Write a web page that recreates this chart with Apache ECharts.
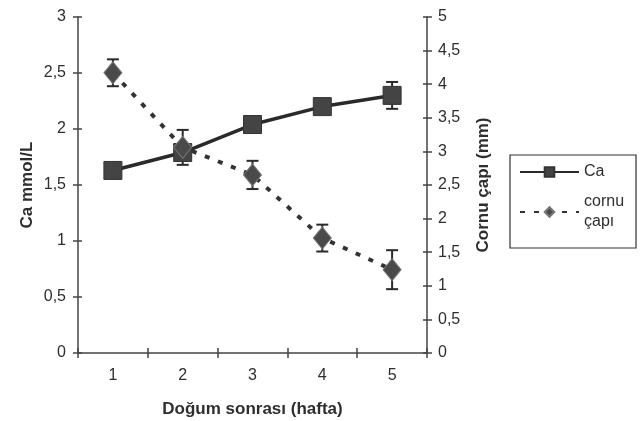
<!DOCTYPE html>
<html><head><meta charset="utf-8">
<script src="https://cdn.jsdelivr.net/npm/echarts@6/dist/echarts.min.js"></script>
<style>html,body{margin:0;padding:0;background:#fff}#c{width:641px;height:421px}</style>
</head><body><div id="c"></div>
<script>
var categories = ['1', '2', '3', '4', '5'];
var caValues = [1.63, 1.79, 2.04, 2.20, 2.30];
var caErrors = [0.05, 0.06, 0.06, 0.05, 0.12];
var cornuValues = [4.17, 3.06, 2.65, 1.71, 1.24];
var cornuErrors = [0.20, 0.26, 0.21, 0.20, 0.29];
var leftTicks = [0, 0.5, 1, 1.5, 2, 2.5, 3];
var rightTicks = [0, 0.5, 1, 1.5, 2, 2.5, 3, 3.5, 4, 4.5, 5];

var fmt = function (v) { return String(v).replace('.', ','); };
var txt = '#2e2e2e';
var FONT = 'Liberation Sans';

function errSeries(name, vals, errs, yIdx) {
  return {
    type: 'custom', name: name + '_err', yAxisIndex: yIdx, z: 4, silent: true,
    data: vals.map(function (v, i) { return [i, v - errs[i], v + errs[i]]; }),
    renderItem: function (params, api) {
      var lo = api.coord([api.value(0), api.value(1)]);
      var hi = api.coord([api.value(0), api.value(2)]);
      var hw = 6;
      var st = { stroke: '#2a2a2a', lineWidth: 2 };
      return { type: 'group', children: [
        { type: 'line', shape: { x1: lo[0], y1: lo[1], x2: hi[0], y2: hi[1] }, style: st },
        { type: 'line', shape: { x1: lo[0] - hw, y1: lo[1], x2: lo[0] + hw, y2: lo[1] }, style: st },
        { type: 'line', shape: { x1: hi[0] - hw, y1: hi[1], x2: hi[0] + hw, y2: hi[1] }, style: st }
      ]};
    }
  };
}

var chart = echarts.init(document.getElementById('c'), null, { renderer: 'canvas' });
var axisLine = { show: true, lineStyle: { color: '#444', width: 1.5 } };
var tickStyle = { color: '#444', width: 1.5 };
chart.setOption({
  backgroundColor: '#fff',
  animation: false,
  textStyle: { fontFamily: FONT },
  grid: { left: 78, right: 214, top: 17, bottom: 68, containLabel: false, outerBoundsMode: 'none' },
  legend: {
    orient: 'vertical', left: 510, top: 155,
    borderColor: '#333', borderWidth: 1.2,
    padding: [7, 12, 6, 9],
    itemGap: 0, itemWidth: 59, itemHeight: 12,
    textStyle: { fontFamily: FONT, fontSize: 16, color: txt, lineHeight: 20 },
    data: [
      { name: 'Ca' },
      { name: 'cornu\nçapı', textStyle: { padding: [20, 0, 0, 0], lineHeight: 20, fontSize: 16, color: txt } }
    ]
  },
  xAxis: [{
    type: 'category', data: categories, boundaryGap: true,
    axisLine: axisLine,
    axisTick: { show: true, length: 5, lineStyle: tickStyle },
    axisLabel: { fontSize: 16, color: txt, margin: 15, fontFamily: FONT },
    name: 'Doğum sonrası (hafta)', nameLocation: 'middle', nameGap: 48, nameMoveOverlap: false,
    nameTextStyle: { fontSize: 17, fontWeight: 'bold', color: txt, fontFamily: FONT }
  }, {
    type: 'category', data: categories, boundaryGap: true, position: 'bottom',
    axisLine: { show: false }, axisLabel: { show: false },
    axisTick: { show: true, inside: true, length: 5, lineStyle: tickStyle }
  }],
  yAxis: [{
    type: 'value', min: 0, max: 3, interval: 0.5, position: 'left',
    axisLine: axisLine, splitLine: { show: false },
    axisTick: { show: true, length: 5, lineStyle: tickStyle },
    axisLabel: { fontSize: 16, color: txt, margin: 12, formatter: fmt, fontFamily: FONT },
    name: 'Ca mmol/L', nameLocation: 'middle', nameGap: 42, nameRotate: 90, nameMoveOverlap: false,
    nameTextStyle: { fontSize: 17, fontWeight: 'bold', color: txt, fontFamily: FONT }
  }, {
    type: 'value', min: 0, max: 5, interval: 0.5, position: 'right',
    axisLine: axisLine, splitLine: { show: false },
    axisTick: { show: true, length: 5, lineStyle: tickStyle },
    axisLabel: { fontSize: 16, color: txt, margin: 11, formatter: fmt, fontFamily: FONT },
    name: 'Cornu çapı (mm)', nameLocation: 'middle', nameGap: 48, nameRotate: 90, nameMoveOverlap: false,
    nameTextStyle: { fontSize: 17, fontWeight: 'bold', color: txt, fontFamily: FONT }
  }, {
    type: 'value', min: 0, max: 3, interval: 0.5, position: 'left',
    axisLine: { show: false }, splitLine: { show: false }, axisLabel: { show: false },
    axisTick: { show: true, inside: true, length: 4, lineStyle: tickStyle }
  }, {
    type: 'value', min: 0, max: 5, interval: 0.5, position: 'right',
    axisLine: { show: false }, splitLine: { show: false }, axisLabel: { show: false },
    axisTick: { show: true, inside: true, length: 4, lineStyle: tickStyle }
  }],
  series: [
    errSeries('Ca', caValues, caErrors, 0),
    {
      name: 'Ca', type: 'line', yAxisIndex: 0, data: caValues, z: 5,
      symbol: 'rect', symbolSize: 18,
      lineStyle: { color: '#2a2a2a', width: 3.5 },
      itemStyle: { color: '#444', borderColor: '#333', borderWidth: 1 }
    },
    errSeries('cornu', cornuValues, cornuErrors, 1),
    {
      name: 'cornu\nçapı', type: 'line', yAxisIndex: 1, data: cornuValues, z: 6,
      symbol: 'diamond', symbolSize: [18, 22],
      lineStyle: { color: '#333', width: 4, type: [5, 9], cap: 'butt' },
      itemStyle: { color: '#4a4a4a', borderColor: '#777', borderWidth: 1 }
    }
  ]
});
</script></body></html>
